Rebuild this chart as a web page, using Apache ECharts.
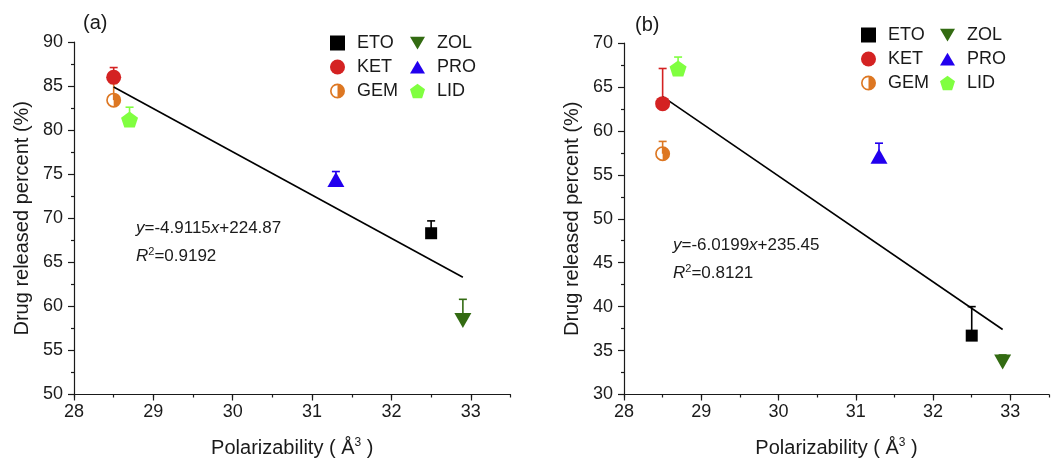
<!DOCTYPE html>
<html>
<head>
<meta charset="utf-8">
<script src="https://cdn.jsdelivr.net/npm/echarts@6/dist/echarts.min.js"></script>
<style>
html,body{margin:0;padding:0;background:#fff;}
#chart{width:1052px;height:463px;}
</style>
</head>
<body>
<div id="chart"></div>
<script>
// ---- data ----
const compounds = ['ETO', 'KET', 'GEM', 'ZOL', 'PRO', 'LID'];
const polarizability = [32.5, 28.5, 28.5, 32.9, 31.3, 28.7];
const releaseA = [68.3, 86.0, 83.4, 58.4, 74.4, 81.2];
const errorA = [1.4, 1.1, 1.9, 2.4, 0.9, 1.4];
const releaseB = [36.7, 63.1, 57.4, 33.7, 57.1, 67.1];
const errorB = [3.3, 4.0, 1.4, 0.8, 1.5, 1.3];
const fitA = [[28.5, 84.9], [32.9, 63.3]];
const fitB = [[28.5, 63.9], [32.9, 37.4]];
const xTicks = [28, 29, 30, 31, 32, 33];

// ---- styling ----
const colors = ['#000000', '#d42222', '#dd7722', '#336b12', '#2200ee', '#80ff40'];
const GEM_PATH = 'path://M10,0 A10,10 0 0,1 10,20 A10,10 0 0,1 10,0 Z M10,2.2 A7.8,7.8 0 0,0 10,17.8 Z';
const symbols = [
  'rect',
  'circle',
  GEM_PATH,
  'path://M0,0 L20,0 L10,17 Z',
  'path://M10,0 L20,17 L0,17 Z',
  'path://M10,0 L19.51,6.91 L15.88,18.09 L4.12,18.09 L0.49,6.91 Z'
];
const sizes = [12, 15, 15, [17, 15], [17, 15], [17, 16]];
const FONT = '"Liberation Sans", Arial, sans-serif';
const AX = '#1a1a1a';

const chart = echarts.init(document.getElementById('chart'), null, {renderer: 'canvas'});

function mainX(grid) {
  return {
    type: 'value', gridIndex: grid, min: 28, max: 33.5, interval: 0.5,
    axisLine: {show: true, onZero: false, lineStyle: {color: AX, width: 1.2}},
    axisTick: {show: true, inside: false, length: 3, lineStyle: {color: AX, width: 1.2}},
    axisLabel: {
      color: AX, fontSize: 18, fontFamily: FONT, margin: 9,
      formatter: v => (Math.abs(v - Math.round(v)) < 1e-6 ? String(Math.round(v)) : '')
    },
    splitLine: {show: false},
    name: 'Polarizability ( Å{sup|3} )',
    nameLocation: 'middle', nameGap: 42,
    nameTextStyle: {
      color: AX, fontSize: 20, fontFamily: FONT,
      rich: {sup: {fontSize: 12, fontFamily: FONT, color: AX, verticalAlign: 'top', padding: [0, 0, 11, 0]}}
    }
  };
}
function tickX(grid) {
  return {
    type: 'value', gridIndex: grid, min: 28, max: 33.5, interval: 1, position: 'bottom',
    axisLine: {show: false},
    axisTick: {show: true, length: 6, customValues: xTicks, lineStyle: {color: AX, width: 1.2}},
    axisLabel: {show: false},
    splitLine: {show: false}
  };
}
function yAx(grid, min, max) {
  return {
    type: 'value', gridIndex: grid, min: min, max: max, interval: 5,
    axisLine: {show: true, onZero: false, lineStyle: {color: AX, width: 1.2}},
    axisTick: {show: true, length: 6, lineStyle: {color: AX, width: 1.2}},
    minorTick: {show: true, splitNumber: 2, length: 3, lineStyle: {color: AX, width: 1.2}},
    axisLabel: {color: AX, fontSize: 18, fontFamily: FONT, margin: 11},
    splitLine: {show: false},
    name: 'Drug released percent (%)',
    nameLocation: 'middle', nameGap: 42,
    nameTextStyle: {color: AX, fontSize: 20, fontFamily: FONT}
  };
}

function panelSeries(xi, yi, release, errs, fit) {
  const out = [];
  out.push({
    type: 'custom', xAxisIndex: xi, yAxisIndex: yi, z: 1, silent: true,
    data: compounds.map((c, i) => [polarizability[i], release[i], release[i] + errs[i], i]),
    renderItem: function (params, api) {
      const p0 = api.coord([api.value(0), api.value(1)]);
      const p1 = api.coord([api.value(0), api.value(2)]);
      const col = colors[api.value(3)];
      return {
        type: 'group', children: [
          {type: 'line', shape: {x1: p0[0], y1: p0[1], x2: p1[0], y2: p1[1]}, style: {stroke: col, lineWidth: 1.6}},
          {type: 'line', shape: {x1: p1[0] - 4, y1: p1[1], x2: p1[0] + 4, y2: p1[1]}, style: {stroke: col, lineWidth: 1.6}}
        ]
      };
    }
  });
  out.push({
    type: 'line', xAxisIndex: xi, yAxisIndex: yi, z: 2, data: fit, showSymbol: false, symbol: 'none',
    lineStyle: {color: '#000', width: 1.6}, silent: true, legendHoverLink: false
  });
  compounds.forEach((c, i) => {
    out.push({
      type: 'scatter', name: c, xAxisIndex: xi, yAxisIndex: yi, z: 3,
      data: [[polarizability[i], release[i]]],
      symbol: symbols[i], symbolSize: sizes[i],
      itemStyle: {color: colors[i], opacity: 1}
    });
  });
  return out;
}

function legend(names, left, top) {
  return {
    data: names, orient: 'vertical', left: left, top: top,
    itemWidth: 15, itemHeight: 15, itemGap: 6, padding: 0,
    textStyle: {fontSize: 18, fontFamily: FONT, color: AX, padding: [0, 0, 0, 7]},
    selectedMode: false
  };
}

const richEq = {
  i: {fontStyle: 'italic', fontSize: 17, fontFamily: FONT, fill: AX},
  n: {fontSize: 17, fontFamily: FONT, fill: AX},
  s: {fontSize: 11, fontFamily: FONT, fill: AX, verticalAlign: 'top', padding: [0, 0, 10, 0]}
};
function eqText(left, top, txt) {
  return {type: 'text', left: left, top: top, style: {text: txt, rich: richEq, fill: AX, font: '17px ' + FONT}};
}

const option = {
  backgroundColor: '#fff',
  animation: false,
  grid: [
    {left: 74, top: 42, width: 436.5, height: 355, containLabel: false},
    {left: 624, top: 43, width: 428.5, height: 355, containLabel: false}
  ],
  xAxis: [mainX(0), tickX(0), mainX(1), tickX(1)],
  yAxis: [yAx(0, 50, 90), yAx(1, 30, 70)],
  legend: [
    legend(['ETO', 'KET', 'GEM'], 330, 34),
    legend(['ZOL', 'PRO', 'LID'], 410, 34),
    legend(['ETO', 'KET', 'GEM'], 861, 26),
    legend(['ZOL', 'PRO', 'LID'], 940, 26)
  ],
  graphic: [
    {type: 'text', left: 83, top: 13, style: {text: '(a)', font: '20px ' + FONT, fill: AX}},
    {type: 'text', left: 635, top: 15, style: {text: '(b)', font: '20px ' + FONT, fill: AX}},
    eqText(136, 220, '{i|y}{n|=-4.9115}{i|x}{n|+224.87}'),
    eqText(136, 246, '{i|R}{s|2}{n|=0.9192}'),
    eqText(673, 237, '{i|y}{n|=-6.0199}{i|x}{n|+235.45}'),
    eqText(673, 263, '{i|R}{s|2}{n|=0.8121}')
  ],
  series: [].concat(
    panelSeries(0, 0, releaseA, errorA, fitA),
    panelSeries(2, 1, releaseB, errorB, fitB)
  )
};
chart.setOption(option);
</script>
</body>
</html>
